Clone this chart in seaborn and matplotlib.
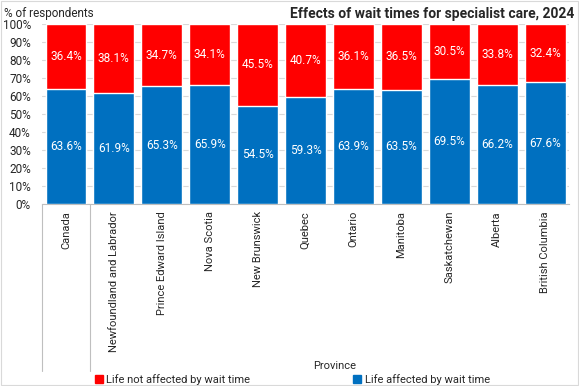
import matplotlib
matplotlib.use('Agg')
import matplotlib.pyplot as plt
import seaborn as sns
import pandas as pd
from matplotlib.lines import Line2D
from matplotlib.patches import Patch

# Data
provinces = ['Canada', 'Newfoundland and Labrador', 'Prince Edward Island',
             'Nova Scotia', 'New Brunswick', 'Quebec', 'Ontario', 'Manitoba',
             'Saskatchewan', 'Alberta', 'British Columbia']
affected = [63.6, 61.9, 65.3, 65.9, 54.5, 59.3, 63.9, 63.5, 69.5, 66.2, 67.6]
not_affected = [36.4, 38.1, 34.7, 34.1, 45.5, 40.7, 36.1, 36.5, 30.5, 33.8, 32.4]

red = '#FF0000'
blue = '#0070C0'

sns.set_theme(style='white')
plt.rcParams['font.family'] = ['Roboto', 'DejaVu Sans']

df = pd.DataFrame({'province': provinces, 'affected': affected,
                   'not_affected': not_affected})
df['total'] = df['affected'] + df['not_affected']

fig = plt.figure(figsize=(5.79, 3.86), dpi=100)
ax = fig.add_axes([0.0725, 0.4715, 0.9105, 0.4665])

sns.barplot(data=df, x='province', y='total', color=red, width=0.85,
            saturation=1, ax=ax, zorder=2)
sns.barplot(data=df, x='province', y='affected', color=blue, width=0.85,
            saturation=1, ax=ax, zorder=3)

for i, row in df.iterrows():
    ax.text(i, row['affected'] / 2, f"{row['affected']:.1f}%", color='white',
            ha='center', va='center', fontsize=8.5, zorder=4)
    ax.text(i, row['affected'] + row['not_affected'] / 2,
            f"{row['not_affected']:.1f}%", color='white',
            ha='center', va='center', fontsize=8.5, zorder=4)

ax.set_ylim(0, 100)
ax.set_xlim(-0.5, len(provinces) - 0.5)
ax.set_yticks(range(0, 101, 10))
ax.set_yticklabels([f'{v}%' for v in range(0, 101, 10)], fontsize=8.5)
ax.yaxis.grid(True, color='#D9D9D9', linewidth=0.8, zorder=0)
ax.set_axisbelow(True)
ax.tick_params(axis='y', length=0, pad=8)
ax.tick_params(axis='x', length=0, pad=5)
ax.set_xticks(range(len(provinces)))
ax.set_xticklabels(provinces, rotation=90, fontsize=8, va='top')
ax.set_xlabel('')
ax.set_ylabel('')
for s in ['top', 'right', 'left']:
    ax.spines[s].set_visible(False)
ax.spines['bottom'].set_color('#BFBFBF')
ax.spines['bottom'].set_linewidth(0.8)

# separator lines below the category axis
trans = ax.get_xaxis_transform()
for xv in [-0.5, 0.5]:
    ax.add_line(Line2D([xv, xv], [0, -0.93], transform=trans, color='#BFBFBF',
                       linewidth=0.8, clip_on=False))

fig.text(0.007, 0.965, '% of respondents', fontsize=8.5, va='center', ha='left')
fig.text(0.992, 0.963, 'Effects of wait times for specialist care, 2024',
         fontsize=10, fontweight='bold', va='center', ha='right')
fig.text(0.578, 0.052, 'Province', fontsize=8, ha='center', va='center')

handles = [Patch(color=red, label='Life not affected by wait time'),
           Patch(color=blue, label='Life affected by wait time')]
fig.legend(handles=handles, loc='center', bbox_to_anchor=(0.505, 0.018), ncol=2,
           frameon=False, fontsize=8, handlelength=0.7, handleheight=0.7,
           handletextpad=0.3, columnspacing=9.3)

fig.patches.append(plt.Rectangle((0.002, 0.002), 0.996, 0.996,
                                 transform=fig.transFigure, fill=False,
                                 edgecolor='#D9D9D9', linewidth=0.8))

fig.savefig('out.png', dpi=100)
